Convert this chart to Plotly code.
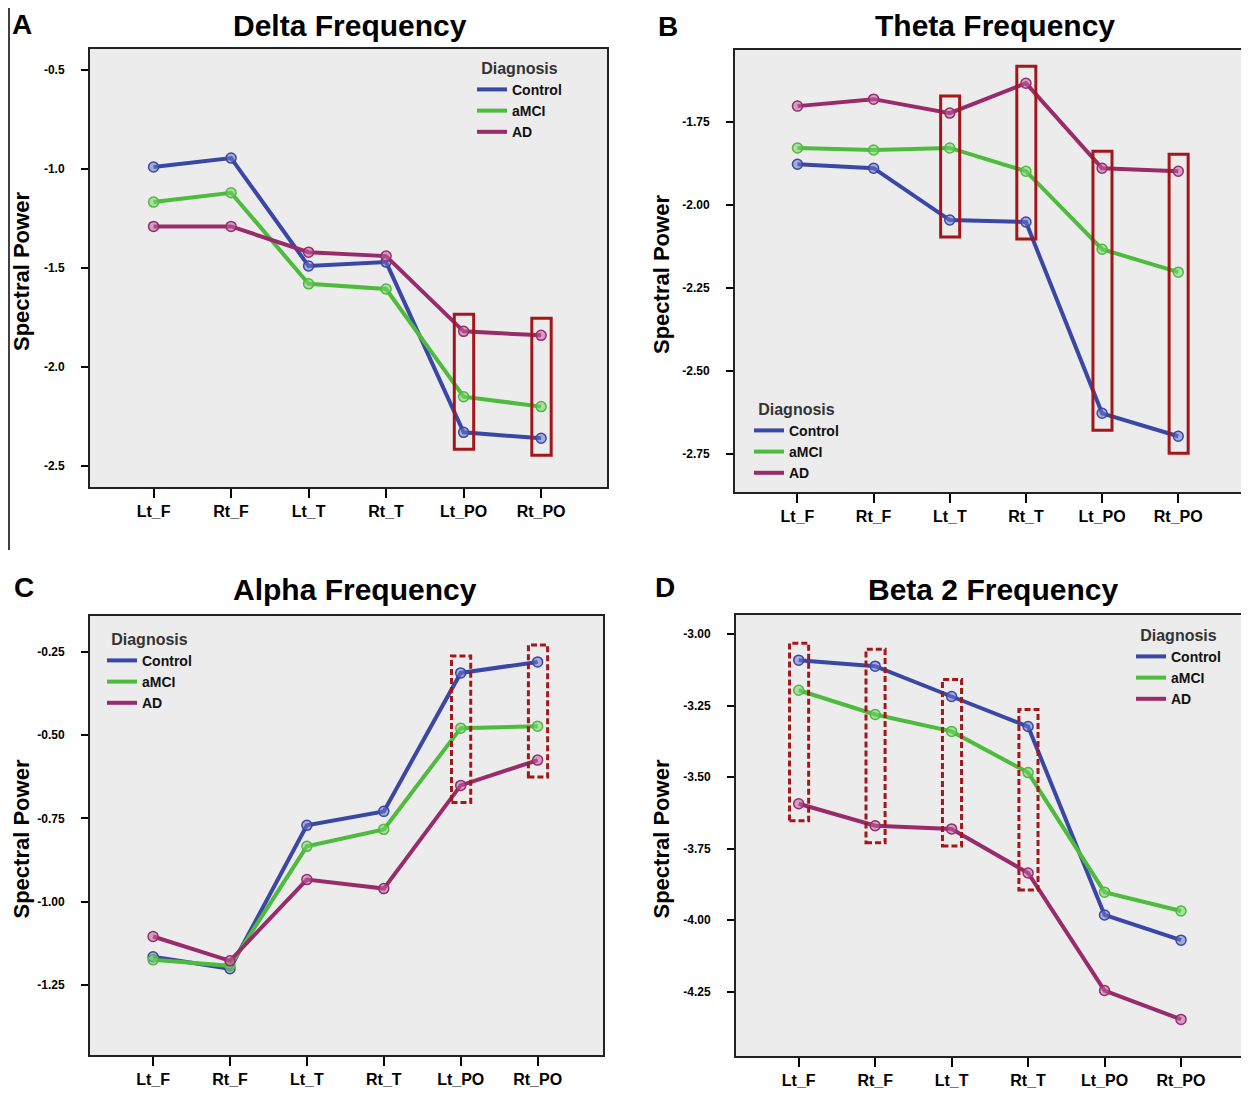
import plotly.graph_objects as go

W, H = 1249, 1097
OFF = 8  # page body margin of the html page
FW, FH = W - OFF, H - OFF
FONT = "Liberation Sans"


def px(x):
    return (x - OFF) / FW


def py(y):
    return 1 - (y - OFF) / FH


regions = ["Lt_F", "Rt_F", "Lt_T", "Rt_T", "Lt_PO", "Rt_PO"]
groups = ["Control", "aMCI", "AD"]
colors = {"Control": "#3b47a6", "aMCI": "#4dbb3c", "AD": "#9a2b6b"}
fills = {"Control": "rgba(110,120,200,0.55)", "aMCI": "rgba(120,210,110,0.55)", "AD": "rgba(190,100,160,0.55)"}

delta_control = [-0.99, -0.945, -1.49, -1.47, -2.33, -2.36]
delta_amci = [-1.167, -1.12, -1.58, -1.606, -2.15, -2.20]
delta_ad = [-1.29, -1.29, -1.42, -1.44, -1.82, -1.84]

theta_control = [-1.877, -1.889, -2.045, -2.051, -2.627, -2.696]
theta_amci = [-1.828, -1.834, -1.828, -1.898, -2.133, -2.202]
theta_ad = [-1.702, -1.681, -1.723, -1.633, -1.889, -1.898]

alpha_control = [-1.166, -1.202, -0.771, -0.729, -0.313, -0.280]
alpha_amci = [-1.175, -1.193, -0.834, -0.783, -0.479, -0.473]
alpha_ad = [-1.105, -1.178, -0.934, -0.961, -0.651, -0.575]

beta2_control = [-3.091, -3.112, -3.218, -3.323, -3.982, -4.070]
beta2_amci = [-3.196, -3.281, -3.340, -3.484, -3.902, -3.968]
beta2_ad = [-3.593, -3.670, -3.681, -3.835, -4.246, -4.347]

panels = [
    dict(letter="A", title="Delta Frequency", series=[delta_control, delta_amci, delta_ad],
         yrange=[-2.606, -0.394], ticks=[-0.5, -1.0, -1.5, -2.0, -2.5], fmt="{:.1f}",
         box=(90, 607, 49, 487), boxes=[4, 5], dashed=False,
         legend=dict(x=472, y=53), title_x=350, letter_xy=(22, 8)),
    dict(letter="B", title="Theta Frequency", series=[theta_control, theta_amci, theta_ad],
         yrange=[-2.864, -1.533], ticks=[-1.75, -2.00, -2.25, -2.50, -2.75], fmt="{:.2f}",
         box=(735, 1243, 50, 492), boxes=[2, 3, 4, 5], dashed=False,
         legend=dict(x=749, y=394), title_x=995, letter_xy=(668, 10)),
    dict(letter="C", title="Alpha Frequency", series=[alpha_control, alpha_amci, alpha_ad],
         yrange=[-1.461, -0.142], ticks=[-0.25, -0.50, -0.75, -1.00, -1.25], fmt="{:.2f}",
         box=(90, 603, 616, 1055), boxes=[4, 5], dashed=True,
         legend=dict(x=102, y=624), title_x=355, letter_xy=(24, 571)),
    dict(letter="D", title="Beta 2 Frequency", series=[beta2_control, beta2_amci, beta2_ad],
         yrange=[-4.475, -2.933], ticks=[-3.00, -3.25, -3.50, -3.75, -4.00, -4.25], fmt="{:.2f}",
         box=(736, 1246, 615, 1056), boxes=[0, 1, 2, 3], dashed=True,
         legend=dict(x=1131, y=620), title_x=993, letter_xy=(665, 571)),
]

fig = go.Figure()
shapes = []
annotations = []
layout = {}

for i, p in enumerate(panels):
    n = "" if i == 0 else str(i + 1)
    xa, ya = "x" + n, "y" + n
    lg = "legend" + n
    l, r, t, b = p["box"]
    for g, vals in zip(groups, p["series"]):
        fig.add_trace(go.Scatter(
            x=list(range(len(regions))), y=vals, name=g, mode="lines+markers",
            xaxis=xa, yaxis=ya, showlegend=False,
            line=dict(color=colors[g], width=4),
            marker=dict(size=10, color=fills[g], line=dict(color=colors[g], width=1.5)),
        ))
    for g in groups:
        fig.add_trace(go.Scatter(
            x=[None], y=[None], name=g, mode="lines", xaxis=xa, yaxis=ya, legend=lg,
            line=dict(color=colors[g], width=4),
        ))
    layout["xaxis" + n] = dict(
        domain=[px(l), px(r)], anchor=ya, range=[-0.82, 5.85],
        tickvals=list(range(len(regions))), ticktext=regions,
        ticks="outside", ticklen=9, tickwidth=2, tickcolor="black",
        showgrid=False, zeroline=False, showline=True, linecolor="#222", linewidth=2, mirror=True,
        tickfont=dict(family=FONT, size=16, color="black", weight="bold"),
        fixedrange=True,
    )
    layout["yaxis" + n] = dict(
        domain=[py(b), py(t)], anchor=xa, range=p["yrange"],
        tickvals=p["ticks"], ticktext=[p["fmt"].format(v) for v in p["ticks"]],
        ticks="outside", ticklen=7, tickwidth=2, tickcolor="black", ticklabelstandoff=14,
        showgrid=False, zeroline=False, showline=True, linecolor="#222", linewidth=2, mirror=True,
        tickfont=dict(family=FONT, size=12, color="black", weight="bold"),
        fixedrange=True,
    )
    # highlight boxes around group values at selected regions
    span = p["yrange"][1] - p["yrange"][0]
    pad = 17 * span / (b - t)
    for k in p["boxes"]:
        vals = [s[k] for s in p["series"]]
        shapes.append(dict(
            type="rect", xref=xa, yref=ya, x0=k - 0.12, x1=k + 0.13,
            y0=min(vals) - pad, y1=max(vals) + pad,
            line=dict(color="#a3171b", width=3, dash="6px,3px" if p["dashed"] else "solid"),
            fillcolor="rgba(0,0,0,0)", layer="above",
        ))
    ty = 8 if i < 2 else 572
    annotations.append(dict(text=p["title"], x=px(p["title_x"]), y=py(ty),
                            xref="paper", yref="paper", showarrow=False, xanchor="center", yanchor="top",
                            borderpad=0,
                            font=dict(family=FONT, size=30, color="black", weight="bold")))
    lx, ly = p["letter_xy"]
    annotations.append(dict(text=p["letter"], x=px(lx), y=py(ly), xref="paper", yref="paper",
                            showarrow=False, xanchor="center", yanchor="top", borderpad=0,
                            font=dict(family=FONT, size=28, color="black", weight="bold")))
    tx = 21 if i % 2 == 0 else 661
    annotations.append(dict(text="Spectral Power", x=px(tx), y=py((t + b) / 2 + 4), xref="paper", yref="paper",
                            showarrow=False, textangle=-90, xanchor="center", yanchor="middle",
                            font=dict(family=FONT, size=22, color="black", weight="bold")))
    layout[lg] = dict(
        x=px(p["legend"]["x"]), y=py(p["legend"]["y"]), xanchor="left", yanchor="top",
        bgcolor="rgba(0,0,0,0)", borderwidth=0, itemwidth=30, tracegroupgap=0,
        font=dict(family=FONT, size=14, color="#111", weight="bold"),
        title=dict(text="Diagnosis", side="top center",
                   font=dict(family=FONT, size=16, color="#333", weight="bold")),
        itemclick=False, itemdoubleclick=False,
    )

# left-edge vertical rule seen in the figure
shapes.append(dict(type="line", xref="paper", yref="paper", x0=px(9), x1=px(9), y0=py(8), y1=py(550),
                   line=dict(color="black", width=1.5)))

fig.update_layout(
    width=FW, height=FH, margin=dict(l=0, r=0, t=0, b=0),
    paper_bgcolor="white", plot_bgcolor="#ececec",
    shapes=shapes, annotations=annotations, showlegend=True,
    **layout,
)
fig.write_html("out.html")
